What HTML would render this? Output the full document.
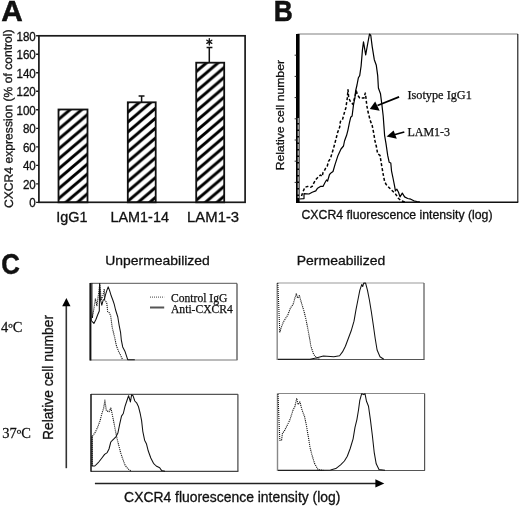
<!DOCTYPE html>
<html><head><meta charset="utf-8"><style>
html,body{margin:0;padding:0;background:#fff;}
body{width:520px;height:506px;overflow:hidden;}
svg{display:block;will-change:transform;}
.s{font-family:"Liberation Sans",sans-serif;fill:#111;stroke:#111;stroke-width:0.3px;}
.t{font-family:"Liberation Serif",serif;fill:#111;stroke:#111;stroke-width:0.25px;}
</style></head><body>
<svg width="520" height="506" viewBox="0 0 520 506">
<defs>
<pattern id="h1" patternUnits="userSpaceOnUse" width="11.6" height="9.9" patternTransform="translate(58.5,129.4)"><path d="M-11.6,19.8 L23.2,-9.9 M-11.6,9.9 L11.6,-9.9 M0,19.8 L23.2,0" stroke="#000" stroke-width="2.9"/></pattern>
<pattern id="h2" patternUnits="userSpaceOnUse" width="11.6" height="9.9" patternTransform="translate(127.9,131.9)"><path d="M-11.6,19.8 L23.2,-9.9 M-11.6,9.9 L11.6,-9.9 M0,19.8 L23.2,0" stroke="#000" stroke-width="2.9"/></pattern>
<pattern id="h3" patternUnits="userSpaceOnUse" width="11.6" height="9.9" patternTransform="translate(196.2,131)"><path d="M-11.6,19.8 L23.2,-9.9 M-11.6,9.9 L11.6,-9.9 M0,19.8 L23.2,0" stroke="#000" stroke-width="2.9"/></pattern>
</defs>
<rect width="520" height="506" fill="#fff"/>

<!-- ============ PANEL A ============ -->
<text class="s" x="1.2" y="20.9" font-size="29.8" font-weight="bold" style="stroke:#000;stroke-width:0.45px">A</text>
<g stroke="#1a1a1a" stroke-width="1.7" fill="none">
<rect x="38.9" y="35.8" width="206.2" height="166.5"/>
<path d="M36.1,202.30H38.9M36.1,183.79H38.9M36.1,165.29H38.9M36.1,146.78H38.9M36.1,128.28H38.9M36.1,109.77H38.9M36.1,91.26H38.9M36.1,72.76H38.9M36.1,54.25H38.9M36.1,35.75H38.9" stroke-width="1.3"/>
</g>
<g class="s" font-size="11.6" text-anchor="end">
<text transform="translate(35.8,40.85) scale(1,1.08)">180</text>
<text transform="translate(35.8,59.35) scale(1,1.08)">160</text>
<text transform="translate(35.8,77.86) scale(1,1.08)">140</text>
<text transform="translate(35.8,96.36) scale(1,1.08)">120</text>
<text transform="translate(35.8,114.87) scale(1,1.08)">100</text>
<text transform="translate(35.8,133.38) scale(1,1.08)">80</text>
<text transform="translate(35.8,151.88) scale(1,1.08)">60</text>
<text transform="translate(35.8,170.39) scale(1,1.08)">40</text>
<text transform="translate(35.8,188.89) scale(1,1.08)">20</text>
<text transform="translate(35.8,207.40) scale(1,1.08)">0</text>
</g>
<text class="s" font-size="12" text-anchor="middle" textLength="178.6" lengthAdjust="spacingAndGlyphs" transform="translate(12.3,118.7) rotate(-90.4)">CXCR4 expression (% of control)</text>
<g stroke="#111" stroke-width="1.8">
<rect x="58.5" y="109.5" width="29" height="92.8" fill="url(#h1)"/>
<rect x="127.8" y="102.3" width="27.9" height="100" fill="url(#h2)"/>
<rect x="196.2" y="62.7" width="28" height="139.6" fill="url(#h3)"/>
<path d="M141.6,102.3V95.9M138.6,95.9H144.5M209.3,62.7V47.6M206.6,47.6H212.4" fill="none" stroke-width="1.5"/>
<path d="M209.3,38.6V45M206.8,40.2L211.8,43.4M206.8,43.4L211.8,40.2" fill="none" stroke-width="1.3" stroke-linecap="round"/>
</g>
<g class="s" font-size="14.4" text-anchor="middle">
<text x="71.8" y="221.7">IgG1</text>
<text x="139.7" y="221.8" textLength="58.5" lengthAdjust="spacingAndGlyphs">LAM1-14</text>
<text x="213.1" y="221.9" textLength="52" lengthAdjust="spacingAndGlyphs">LAM1-3</text>
</g>

<!-- ============ PANEL B ============ -->
<text class="s" font-size="28.4" font-weight="bold" style="stroke:#000;stroke-width:0.45px" transform="translate(273.7,20.8) scale(0.93,1.03)">B</text>
<g fill="none">
<path d="M297.5,34H517.8" stroke="#aaa" stroke-width="1.3"/>
<path d="M517.8,34V202" stroke="#111" stroke-width="1.1"/>
<path d="M296.5,202.2H518.3" stroke="#111" stroke-width="1.5"/>
<path d="M297.8,34V203" stroke="#000" stroke-width="3.6"/>
<path d="M298.2,118V198" stroke="#fff" stroke-width="0.9" stroke-dasharray="5,1.5"/>
<path d="M294.6,55.2H296.5M294.6,76.4H296.5M294.6,97.6H296.5M294.6,118.8H296.5M294.6,140.0H296.5M294.6,161.2H296.5M294.6,182.4H296.5" stroke="#333" stroke-width="1"/>
<!-- solid LAM1-3 -->
<path stroke="#000" stroke-width="1.2" stroke-linejoin="round" d="M299.4,199 L299.4,199 L304,198.6 L304,193.6 L306.5,193.8 L309,194 L312.2,192.3 L315.8,190.9 L317.6,188.2 L320.4,186.4 L323,186.4 L324.9,182.7 L326.5,180 L327.6,181 L329.5,174.5 L331.3,172.7 L333,171.5 L335,164.6 L338,155.4 L341,149 L343.5,146 L344.5,141 L346.6,135.3 L348,129.8 L349.4,122.9 L350.7,117.3 L352.1,116 L353.5,104.9 L354.9,98 L355.6,91 L357,85 L358.4,77.7 L359.7,75.6 L361.1,66 L362.5,49.4 L363.5,41.8 L365.7,54.9 L368,42 L369.5,34 L370.8,35.5 L372.2,46.6 L374.3,59.7 L376.3,65.3 L377.7,75.6 L378.4,88 L380.5,93.8 L381.9,104.9 L383.2,116 L383.9,125.6 L384.6,135.3 L386,143.6 L387.7,155.4 L389.2,162.3 L390.8,163 L391.5,170.8 L393.1,178.5 L394.6,186.2 L395.4,190.8 L396.9,189.2 L398.5,192.3 L400,196.9 L402.3,193.1 L404.6,196.9 L407.7,198.5 L410.8,199.2 L413.8,200.8 L416.9,201.5 L420,202"/>
<!-- dashed isotype -->
<path stroke="#000" stroke-width="1.5" stroke-dasharray="3,2" stroke-linejoin="round" d="M301.5,196 L303,191.8 L304.9,187.3 L307.6,186.4 L310.4,187.3 L312.2,186.4 L313.5,183.6 L315.8,179.5 L318.5,176.8 L320.4,175 L322.2,176.4 L323,172.7 L324.5,170.5 L325.4,168.6 L327.2,166.4 L328.5,161.4 L330.4,158.5 L333.5,148.5 L335.5,140.9 L337.6,132.6 L339.7,127 L340.4,121.5 L342.4,120.1 L343.8,114.6 L345.9,107.7 L347.3,98 L348,89.7 L348.7,98 L350.7,102.1 L352.8,104.2 L354.9,96.6 L356.3,91 L357.7,95.2 L359.7,98 L361.8,98 L363.9,98 L365.3,93.1 L366,98 L366.7,104.9 L368,111.8 L370.1,120.1 L372.2,125.6 L373.6,132.6 L375,140.9 L376.3,146.2 L377.7,153.8 L380,155.4 L381.5,164.6 L383.1,173.8 L384.6,181.5 L386.2,184.6 L389.2,187.7 L392.3,190.8 L395.4,193.8 L398.5,198.5 L401.5,200.8 L405,202"/>
<!-- arrows -->
<path d="M399.1,96.9 L377.5,105.5" stroke="#000" stroke-width="1.8"/>
<path d="M404.3,132 L391.5,135.5" stroke="#000" stroke-width="1.8"/>
</g>
<path d="M369.8,108.9 L375.2,101.6 L379.7,110.8 Z" fill="#000"/>
<path d="M386.6,136.6 L393.6,130.6 L396.8,138.8 Z" fill="#000"/>
<g class="t" font-size="12">
<text x="407.4" y="99.3" textLength="64.5" lengthAdjust="spacingAndGlyphs" font-size="12.3">Isotype IgG1</text>
<text x="407.4" y="135.9">LAM1-3</text>
</g>
<text class="s" font-size="11.5" text-anchor="middle" textLength="110.3" lengthAdjust="spacingAndGlyphs" transform="translate(283.9,115.2) rotate(-90)">Relative cell number</text>
<text class="s" x="301.5" y="219.3" font-size="12.4" textLength="191" lengthAdjust="spacingAndGlyphs">CXCR4 fluorescence intensity (log)</text>

<!-- ============ PANEL C ============ -->
<text class="s" font-size="29.6" font-weight="bold" style="stroke:#000;stroke-width:0.45px" transform="translate(1.2,273.6) scale(0.87,1)">C</text>
<g class="s" font-size="13.6">
<text x="105.3" y="264.9" textLength="104.5" lengthAdjust="spacingAndGlyphs">Unpermeabilized</text>
<text x="296.8" y="264.9" textLength="88.4" lengthAdjust="spacingAndGlyphs">Permeabilized</text>
</g>
<g class="t" font-size="13.5">
<text transform="translate(1.0,332.2) scale(1.02,1)" font-size="14.2">4<tspan dy="1.5">º</tspan><tspan dy="-1.5">C</tspan></text>
<text transform="translate(2.2,438.2) scale(1.02,1)" font-size="14.2">37<tspan dy="1.5">º</tspan><tspan dy="-1.5">C</tspan></text>
</g>
<text class="s" font-size="14.3" text-anchor="middle" textLength="125" lengthAdjust="spacingAndGlyphs" transform="translate(52.8,377.5) rotate(-90)">Relative cell number</text>
<path d="M66.3,468.2V305" stroke="#333" stroke-width="1.6"/>
<path d="M66.4,297.9 L62.2,306.3 L70.5,306.3 Z" fill="#000"/>
<path d="M94.9,483.6H376" stroke="#222" stroke-width="1.5"/>
<path d="M384.3,483.4 L375.4,479.2 L375.4,487.4 Z" fill="#000"/>
<text class="s" x="124.1" y="501.5" font-size="13.8" textLength="216.3" lengthAdjust="spacingAndGlyphs">CXCR4 fluorescence intensity (log)</text>

<!-- boxes -->
<g fill="none" stroke-width="1.2">
<!-- C1 -->
<path d="M90.5,283.4H237" stroke="#777" stroke-width="1.1"/>
<path d="M237,283.5V360" stroke="#444"/>
<path d="M90,360H237.5" stroke="#777"/>
<path d="M90.4,283V360.5" stroke="#111" stroke-width="2"/>
<!-- C2 -->
<path d="M277,283H424" stroke="#999"/>
<path d="M424,283V359.5" stroke="#555"/>
<path d="M277,359.5H424.5" stroke="#555"/>
<path d="M277.2,283V360" stroke="#888" stroke-width="1.4"/>
<!-- C3 -->
<path d="M91,394.4H237.9" stroke="#555" stroke-width="1.1"/>
<path d="M237.9,394.2V471.3" stroke="#444"/>
<path d="M91,471.3H238.4" stroke="#444"/>
<path d="M91,394V471.8" stroke="#222" stroke-width="1.6"/>
<!-- C4 -->
<path d="M277.5,393.5H424.6" stroke="#888"/>
<path d="M424.6,393.5V470.5" stroke="#555"/>
<path d="M277.5,470.5H425" stroke="#555"/>
<path d="M277.5,393.5V471" stroke="#888" stroke-width="1.4"/>
</g>

<!-- C1 curves -->
<g fill="none" stroke-linejoin="round">
<path stroke="#111" stroke-width="1.05" d="M91,283.5 L91.2,320.5 L93.9,323.4 L95.9,319.5 L97.8,314.5 L99.3,311 L99.6,283.8 L100.3,299 L101.8,305.2 L103.3,299.7 L104.3,299.7 L105.2,295.8 L106.7,290.9 L108.2,286.9 L109.7,290.9 L111.2,295.8 L112.8,300 L114.2,304.2 L115.6,310 L117.8,317 L119.2,325.6 L120.6,332.7 L121.3,339.8 L122.7,346.9 L124.9,351.2 L126.3,355.4 L127.7,359.7 L134.8,359.7"/>
<path stroke="#111" stroke-width="1.1" stroke-dasharray="1.1,0.9" d="M92.3,283.5 L92.4,318 M92.4,317.5 L93.5,311 L95.4,298.8 L96.9,305.7 L98.8,291.8 L99.8,283.6 L100.6,292 L101.2,299.5 L102.8,296 L104.3,288.9 L104.6,299.7 L106.7,302.7 L107.7,311.6 L109.5,313 L110.7,316 L112.1,327 L113.5,332.7 L114.9,338.4 L116.3,345.5 L118.5,351.2 L120.6,355.4 L122.7,359.7"/>
<path d="M150,297.1H164.2" stroke="#444" stroke-width="1" stroke-dasharray="1,1"/>
<path d="M150,307.5H164.2" stroke="#555" stroke-width="2"/>
</g>
<g class="t" font-size="11.6">
<text x="171" y="301.8">Control IgG</text>
<text x="171" y="313.1">Anti-CXCR4</text>
</g>

<!-- C2 curves -->
<g fill="none" stroke-linejoin="round">
<path stroke="#111" stroke-width="1.1" stroke-dasharray="1.1,0.9" d="M277.8,283 L279.8,332 L281.6,326.6 L283.3,322.2 L286,317.7 L287.8,315 L290.5,307.9 L293.1,304.4 L294.9,298.1 L296.3,293.7 L297.6,298.1 L299.4,295.5 L301.1,301.7 L303.8,310.6 L305.6,317.7 L307.4,326.6 L309.1,335.5 L310.9,346.2 L313.6,354.2 L316.3,357.7 L320,359.5"/>
<path stroke="#111" stroke-width="1.05" d="M278,359.3 L310,359.3 L316,358 L323.4,356 L330.5,356.5 L333.8,356.7 L339.6,355.8 L342.5,351.9 L345.4,346.2 L348.3,338.5 L351.2,330.8 L354,321.2 L356,309.6 L357.9,300 L359.8,290.4 L361.7,284.6 L362.7,286.5 L363.7,283.1 L365.6,283.1 L367.5,290.4 L369.4,300 L371.3,311.5 L373.3,325 L375.2,338.5 L377.1,350 L380,356.7 L383.8,359.3"/>
</g>

<!-- C3 curves -->
<g fill="none" stroke-linejoin="round">
<path stroke="#111" stroke-width="1.05" d="M92,436 L92.1,466 L94.8,466 L97.5,463.3 L99.2,461.5 L101.9,458 L104.6,454.4 L107.2,452.6 L109,449 L110.8,442 L112.6,440.2 L114.4,438.4 L116.1,436.6 L117.9,433 L119.7,424.1 L121.5,416.1 L123.3,413.5 L125,406.4 L126.8,401 L128.6,395.7 L130.4,401.9 L131.6,394.8 L133,395.7 L134.8,401 L136.6,402.8 L138.4,406.4 L140.2,413.5 L141.6,420.6 L142.8,431.3 L144.6,440.2 L146.4,443.7 L148.2,450.8 L150.8,458 L153.5,463.3 L156.2,466 L159.7,467.7 L161.5,470.4 L165,471.3"/>
<path stroke="#111" stroke-width="1.1" stroke-dasharray="1.1,0.9" d="M92.1,466 L92.1,436.6 L94.8,433 L97.5,427.7 L100.1,420.6 L101.9,413.5 L103.7,408.1 L104.9,400.1 L106.4,410.8 L109,411.7 L110.8,408.1 L111.7,411.7 L113.5,420.6 L115.2,429.5 L117,438.4 L118.8,445.5 L120.6,452.6 L122.4,458 L125,465.1 L127.7,468.6 L131.3,471.3"/>
</g>

<!-- C4 curves -->
<g fill="none" stroke-linejoin="round">
<path stroke="#111" stroke-width="1.1" stroke-dasharray="1.1,0.9" d="M278,394 L279.8,440.2 L281.6,440.2 L282.5,433 L284.2,431.3 L286,427.7 L287.8,424.1 L289.6,420.6 L291.4,415.2 L293.1,409.9 L294.9,406.4 L296.7,398.3 L298.1,404.6 L299.9,401.9 L302,409.9 L304.7,417 L306.5,425.9 L308.3,436.6 L310,447.3 L311.8,454.4 L314.5,463.3 L318,469.5 L323.4,470.4"/>
<path stroke="#111" stroke-width="1.05" d="M278,470.3 L319,470.3 L330.5,470 L335.8,468.6 L340.6,464.8 L344.4,461 L347.3,456.2 L350.2,448.5 L353.1,438.8 L355,427.3 L356.9,419.6 L358.5,410 L359.8,400.4 L361.7,393.7 L363.7,394.6 L365,393.7 L366.5,401.3 L368.5,406.2 L370.4,419.6 L372.3,435 L374.2,452.3 L376.2,463.8 L379,469.6 L385,470.3"/>
</g>
</svg>
</body></html>
